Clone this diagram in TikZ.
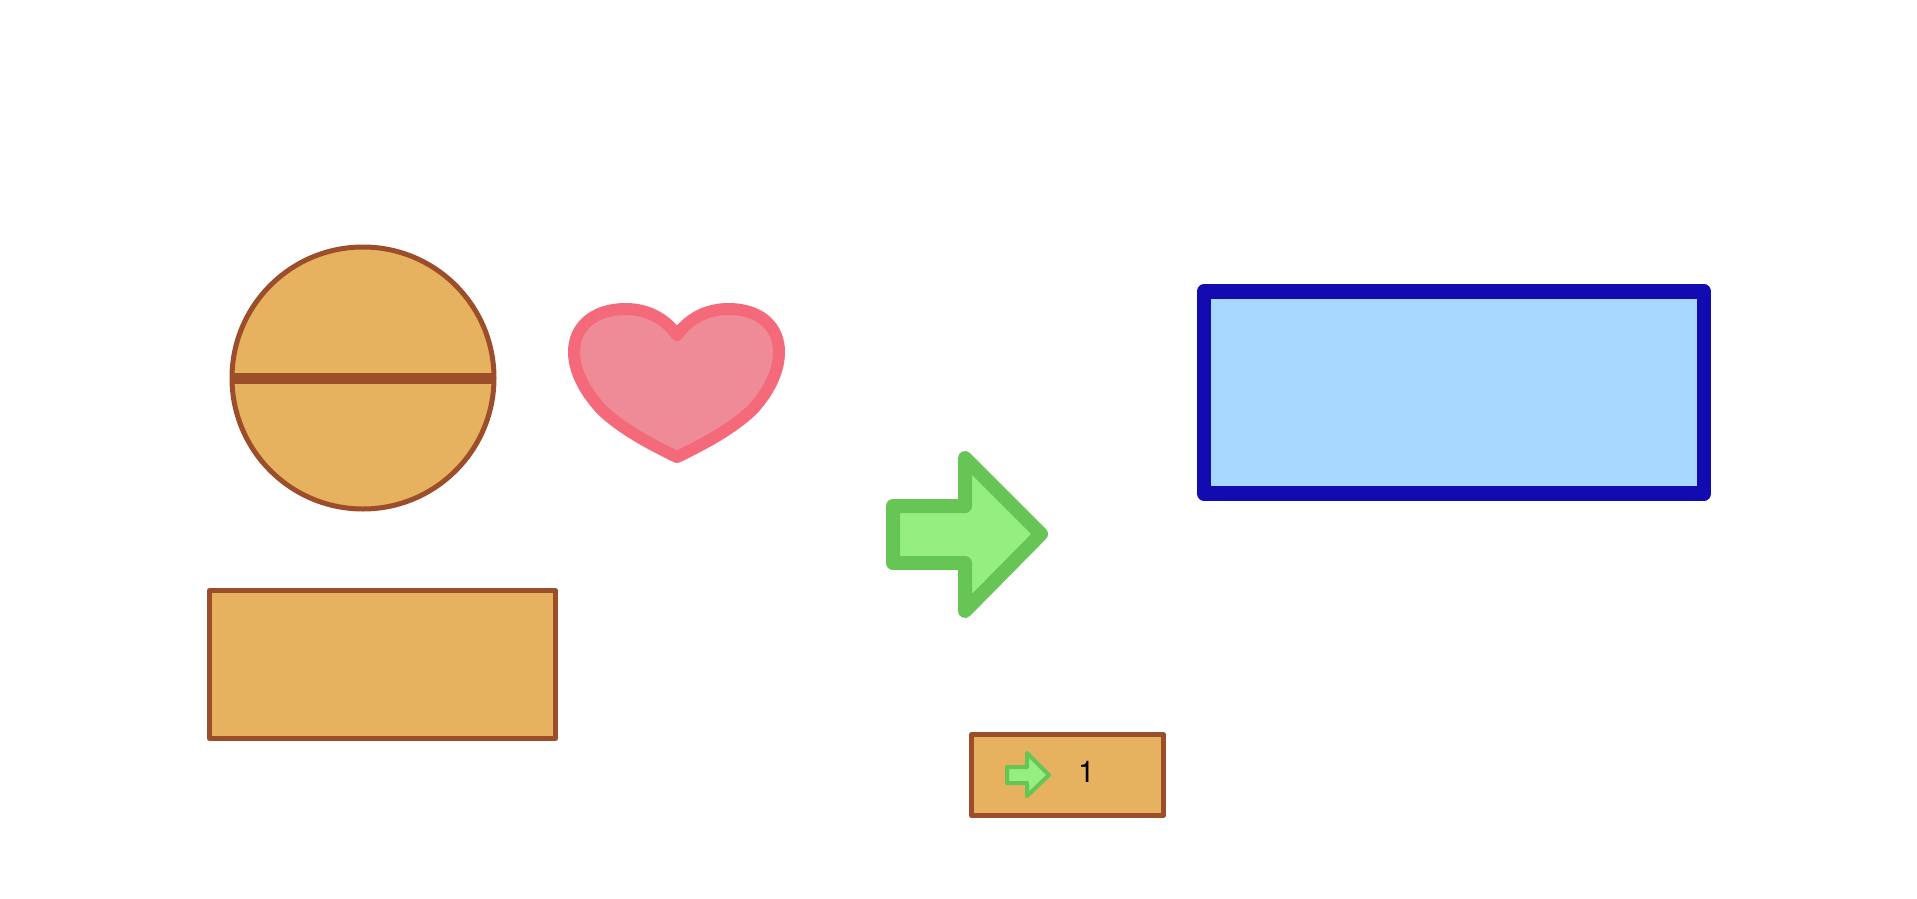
\documentclass[tikz,border=0pt]{standalone}
\usepackage{fontspec}
\setmainfont{TeX Gyre Heros}
\definecolor{tan1}{HTML}{E6B260}
\definecolor{brown1}{HTML}{9C4E2A}
\definecolor{pinkF}{HTML}{EF8B96}
\definecolor{pinkS}{HTML}{F56A7B}
\definecolor{greenF}{HTML}{94EE80}
\definecolor{greenS}{HTML}{66C555}
\definecolor{blueF}{HTML}{A8D8FF}
\definecolor{blueS}{HTML}{120CB0}
\tikzset{
  tanshape/.style={fill=tan1,draw=brown1,line width=5pt,line join=round},
  heartshape/.style={fill=pinkF,draw=pinkS,line width=12pt,line join=round},
  bigarrow/.style={fill=greenF,draw=greenS,line width=14pt,line join=round},
  smallarrow/.style={fill=greenF,draw=greenS,line width=4pt,line join=round},
  blueshape/.style={fill=blueF,draw=blueS,line width=14.5pt,line join=round},
  lbl/.style={inner sep=0pt,font=\fontsize{30}{30}\selectfont,text=black}
}
\begin{document}
\begin{tikzpicture}[x=1pt,y=-1pt]
\useasboundingbox (0,0) rectangle (1917,899);
\fill[white] (0,0) rectangle (1917,899);
% circle with band
\draw[tanshape] (363,378) circle[radius=131];
\fill[brown1] (231,373) rectangle (495,384);
% rectangle
\draw[tanshape] (209.5,590.5) rectangle (555.5,738.5);
% heart
\draw[heartshape] (677,335)
  .. controls (664,317) and (645,309) .. (626,309)
  .. controls (592,309) and (574,328) .. (574,352)
  .. controls (574,372) and (586,393) .. (602,410)
  .. controls (622,429) and (650,444) .. (677,457)
  .. controls (704,444) and (732,429) .. (752,410)
  .. controls (768,393) and (779,372) .. (779,352)
  .. controls (779,328) and (762,309) .. (728,309)
  .. controls (709,309) and (690,317) .. (677,335) -- cycle;
% big arrow
\draw[bigarrow] (893,506) -- (965,506) -- (965,458) -- (1041,534) -- (965,611) -- (965,563) -- (893,563) -- cycle;
% blue rect
\draw[blueshape] (1204,291.5) rectangle (1704,493.5);
% small box
\draw[tanshape] (971.5,734.5) rectangle (1163.5,815.5);
\draw[smallarrow] (1007,767) -- (1027,767) -- (1027,753) -- (1049,775) -- (1027,796) -- (1027,783) -- (1007,783) -- cycle;
\node[lbl] (one) at (1086.5,771.5) {1};
\end{tikzpicture}
\end{document}
